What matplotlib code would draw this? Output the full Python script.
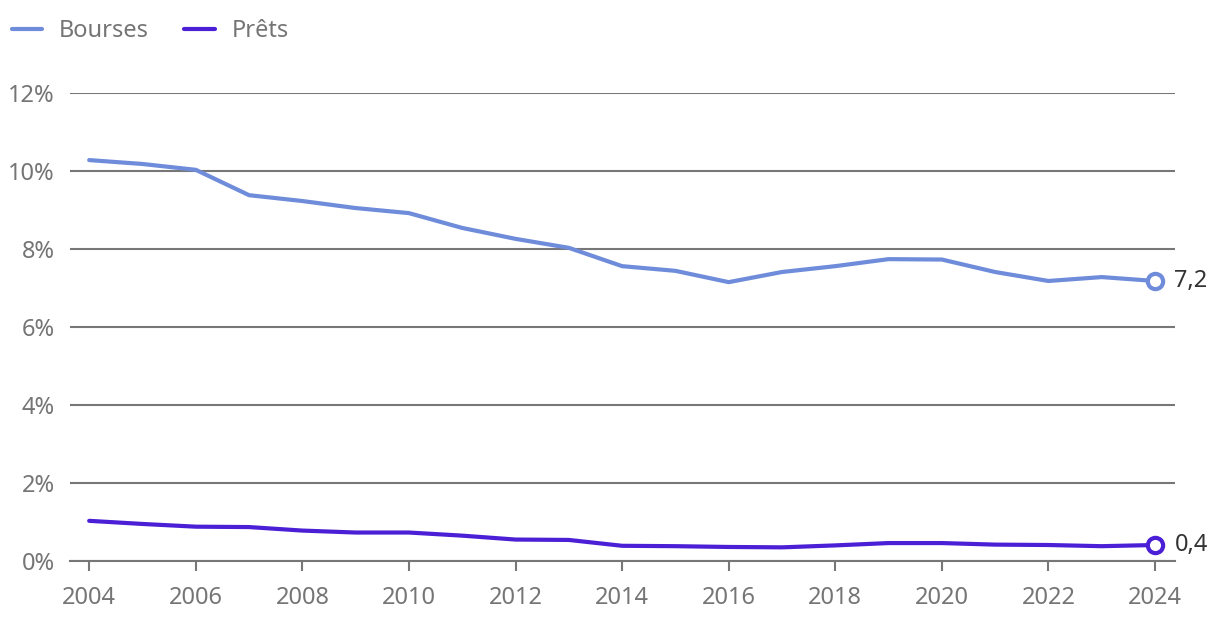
import matplotlib.pyplot as plt
from matplotlib.ticker import FuncFormatter

plt.rcParams['font.family'] = ['Noto Sans', 'DejaVu Sans']

years = list(range(2004, 2025))
bourses = [10.28, 10.18, 10.03, 9.38, 9.23, 9.05, 8.92, 8.54, 8.26, 8.03, 7.56,
           7.44, 7.15, 7.41, 7.56, 7.74, 7.73, 7.41, 7.18, 7.28, 7.18]
prets = [1.03, 0.95, 0.88, 0.87, 0.78, 0.73, 0.73, 0.65, 0.55, 0.54, 0.39,
         0.38, 0.36, 0.35, 0.40, 0.46, 0.46, 0.42, 0.41, 0.38, 0.41]
labels = ['Bourses', 'Prêts']
colors = ['#6f8cdb', '#4b1fd6']
end_labels = ['7,2', '0,4']

fig = plt.figure(figsize=(12.2, 6.3), dpi=100)
ax = fig.add_axes([70 / 1220, 69 / 630, 1105 / 1220, 468 / 630])

for vals, color, label, end in zip([bourses, prets], colors, labels, end_labels):
    ax.plot(years, vals, color=color, lw=3, label=label, solid_capstyle='round', zorder=3)
    ax.plot(years[-1], vals[-1], 'o', ms=11, mfc='white', mec=color, mew=3, zorder=4)
    ax.annotate(end, (years[-1], vals[-1]), xytext=(14, 0), textcoords='offset points',
                va='center', ha='left', fontsize=17, color='#333333')

ax.set_xlim(2003.64, 2024.375)
ax.set_ylim(0, 12)
ax.set_xticks(range(2004, 2025, 2))
ax.set_yticks(range(0, 13, 2))
ax.yaxis.set_major_formatter(FuncFormatter(lambda v, p: f'{int(v)}%'))
ax.grid(axis='y', color='#777777', lw=1.5)
ax.set_axisbelow(True)
for s in ['top', 'right', 'left']:
    ax.spines[s].set_visible(False)
ax.spines['bottom'].set_color('#777777')
ax.spines['bottom'].set_linewidth(1.5)
ax.tick_params(axis='x', length=7, width=1.5, color='#777777', labelcolor='#757575',
               labelsize=17, pad=11)
ax.tick_params(axis='y', length=0, labelcolor='#757575', labelsize=17, pad=11)

fig.legend(loc='upper left', bbox_to_anchor=(-0.006, 1.0), ncol=2, frameon=False,
           fontsize=17, labelcolor='#757575', handlelength=1.3, handletextpad=0.7,
           columnspacing=1.5, borderaxespad=0.4)

fig.savefig('out.png', dpi=100)
